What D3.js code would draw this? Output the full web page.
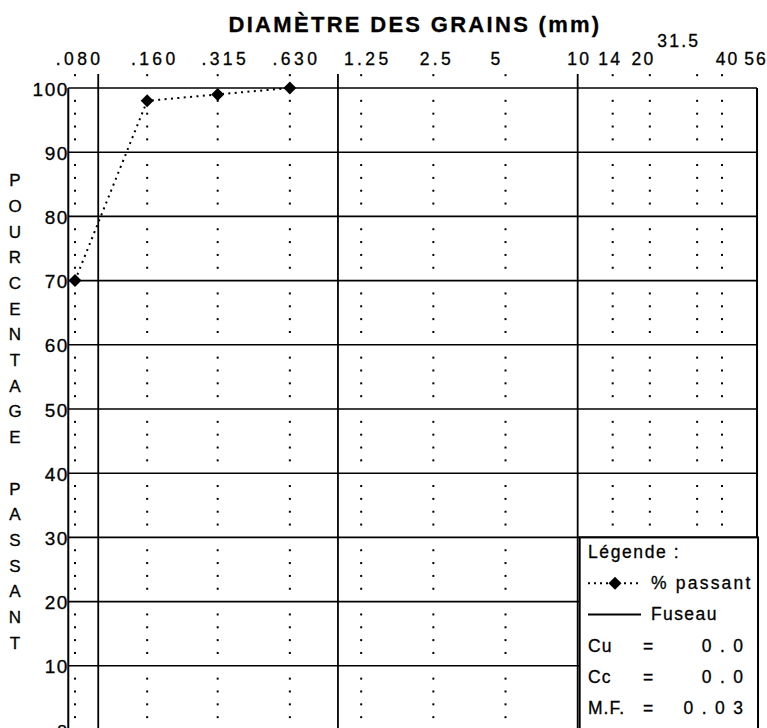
<!DOCTYPE html>
<html>
<head>
<meta charset="utf-8">
<script src="https://cdn.jsdelivr.net/npm/d3@7"></script>
<style>
  body { margin: 0; background: #fff; }
  svg { display: block; }
  text { font-family: "Liberation Sans", Arial, Helvetica, sans-serif; fill: #000; stroke: #000; stroke-width: 0.3px; }
</style>
</head>
<body>
<div id="chart"></div>
<script>
// sieve openings (mm) and their printed labels
const sieveSizes  = [0.08, 0.16, 0.315, 0.63, 1.25, 2.5, 5, 10, 14, 20, 31.5, 40, 56];
const sieveLabels = [".080", ".160", ".315", ".630", "1.25", "2.5", "5", "10", "14", "20", "31.5", "40", "56"];
const decadeSizes = [0.1, 1, 10];
const percentTicks = [0, 10, 20, 30, 40, 50, 60, 70, 80, 90, 100];

// measured sample: % passing
const sampleSizes   = [0.08, 0.16, 0.315, 0.63];
const samplePassing = [70, 98, 99, 100];

const titleText = "DIAMÈTRE DES GRAINS (mm)";
const yTitle = "POURCENTAGE PASSANT";
const legendTitle = "Légende :";
const legendSeries = ["% passant", "Fuseau"];
const statNames  = ["Cu", "Cc", "M.F."];
const statValues = ["0.0", "0.0", "0.03"];

const width = 767, height = 728;

const svg = d3.select("#chart")
    .append("svg")
    .attr("width", width)
    .attr("height", height);

const x = d3.scaleLog().domain([0.08, 40]).range([75, 722]);
const y = d3.scaleLinear().domain([0, 100]).range([730, 88]);

const plotLeft = x(0.075), plotRight = x(56);
const plotTop = y(100), plotBottom = y(0);

// dotted sieve lines (one dot every 2 %)
const dotSieves = sieveSizes.filter(s => s !== 10 && s !== 56);
const dotSteps = d3.range(2, 104, 2).filter(v => v % 10 !== 0);
const dots = svg.append("g");
dotSieves.forEach(s => {
    dots.selectAll(null)
        .data(dotSteps)
        .enter()
        .append("rect")
        .attr("x", x(s) - 1)
        .attr("y", d => y(d) - 1)
        .attr("width", 2)
        .attr("height", 2)
        .attr("fill", "#000");
});

// horizontal grid
svg.append("g")
    .selectAll("line")
    .data(percentTicks)
    .enter()
    .append("line")
    .attr("x1", plotLeft)
    .attr("x2", plotRight)
    .attr("y1", d => y(d))
    .attr("y2", d => y(d))
    .attr("stroke", "#000")
    .attr("stroke-width", 1.6);

// solid decade lines
svg.append("g")
    .selectAll("line")
    .data(decadeSizes)
    .enter()
    .append("line")
    .attr("x1", d => x(d))
    .attr("x2", d => x(d))
    .attr("y1", y(102.2))
    .attr("y2", plotBottom)
    .attr("stroke", "#000")
    .attr("stroke-width", 1.8);

// frame sides
svg.append("line")
    .attr("x1", plotLeft).attr("x2", plotLeft)
    .attr("y1", plotTop).attr("y2", plotBottom)
    .attr("stroke", "#000").attr("stroke-width", 2);
svg.append("line")
    .attr("x1", plotRight).attr("x2", plotRight)
    .attr("y1", plotTop).attr("y2", plotBottom)
    .attr("stroke", "#000").attr("stroke-width", 2);

// legend box (covers grid in the lower right corner)
const lgX = x(10) + 2, lgY = y(30);
svg.append("rect")
    .attr("x", lgX)
    .attr("y", lgY)
    .attr("width", plotRight - lgX + 1)
    .attr("height", plotBottom - lgY + 10)
    .attr("fill", "#fff")
    .attr("stroke", "#000")
    .attr("stroke-width", 2);

// sample curve
const line = d3.line()
    .x((d, i) => x(sampleSizes[i]))
    .y(d => y(d));

svg.append("path")
    .datum(samplePassing)
    .attr("d", line)
    .attr("fill", "none")
    .attr("stroke", "#000")
    .attr("stroke-width", 2)
    .attr("stroke-dasharray", "2 4.4");

const diamond = d3.symbol().type(d3.symbolSquare).size(84);
svg.append("g")
    .selectAll("path")
    .data(samplePassing)
    .enter()
    .append("path")
    .attr("d", diamond)
    .attr("transform", (d, i) => `translate(${x(sampleSizes[i])},${y(d)}) rotate(45)`)
    .attr("fill", "#000");

// title
svg.append("text")
    .attr("x", 415)
    .attr("y", 32)
    .attr("text-anchor", "middle")
    .style("font-size", "22px")
    .style("font-weight", "bold")
    .style("letter-spacing", "2.3px")
    .text(titleText);

// top sieve labels (hand nudged like the printed sheet)
const labelNudge = { ".080": 3, ".160": 6, ".315": 6, ".630": 5, "1.25": 5, "2.5": 2, "5": -10, "10": 0, "14": -4, "20": -8, "31.5": -20, "40": 4, "56": -2.5 };
svg.append("g")
    .selectAll("text")
    .data(sieveSizes)
    .enter()
    .append("text")
    .attr("x", (d, i) => x(d) + labelNudge[sieveLabels[i]] + 1.6)
    .attr("y", (d, i) => sieveLabels[i] === "31.5" ? 47 : 65)
    .attr("text-anchor", "middle")
    .style("font-size", "17.5px")
    .style("letter-spacing", (d, i) => i >= 7 ? "2.2px" : "3.4px")
    .text((d, i) => sieveLabels[i]);

// left percent labels
svg.append("g")
    .selectAll("text")
    .data(percentTicks)
    .enter()
    .append("text")
    .attr("x", plotLeft + 0.5)
    .attr("y", d => y(d) + 7.5)
    .attr("text-anchor", "end")
    .style("font-size", "19px")
    .style("letter-spacing", "1.5px")
    .text(d => d);

// stacked vertical title
svg.append("g")
    .selectAll("text")
    .data(yTitle.split(""))
    .enter()
    .append("text")
    .attr("x", 15)
    .attr("y", (d, i) => 180 + i * 25.7)
    .attr("dy", "0.36em")
    .attr("text-anchor", "middle")
    .style("font-size", "17px")
    .text(d => d);

// legend content
const rowY = i => 558 + i * 31.2;
const lg = svg.append("g").style("font-size", "17.5px");

lg.append("text")
    .attr("x", 588).attr("y", rowY(0))
    .style("letter-spacing", "1.6px")
    .text(legendTitle);

lg.append("line")
    .attr("x1", 588).attr("x2", 642)
    .attr("y1", rowY(1) - 6).attr("y2", rowY(1) - 6)
    .attr("stroke", "#000").attr("stroke-width", 2)
    .attr("stroke-dasharray", "2 4");
lg.append("path")
    .attr("d", diamond)
    .attr("transform", `translate(615,${rowY(1) - 6}) rotate(45)`)
    .attr("fill", "#000");
lg.append("line")
    .attr("x1", 588).attr("x2", 641)
    .attr("y1", rowY(2) - 6).attr("y2", rowY(2) - 6)
    .attr("stroke", "#000").attr("stroke-width", 2);

lg.selectAll(".series")
    .data(legendSeries)
    .enter()
    .append("text")
    .attr("x", 651)
    .attr("y", (d, i) => rowY(i + 1))
    .style("letter-spacing", (d, i) => i === 0 ? "2.2px" : "1.4px")
    .text(d => d);

statNames.forEach((name, i) => {
    lg.append("text")
        .attr("x", 588).attr("y", rowY(i + 3))
        .style("letter-spacing", "1px")
        .text(name);
    lg.append("text")
        .attr("x", 648).attr("y", rowY(i + 3))
        .attr("text-anchor", "middle")
        .text("=");
    lg.append("text")
        .attr("x", 743 + 8.5).attr("y", rowY(i + 3))
        .attr("text-anchor", "end")
        .style("letter-spacing", "8.5px")
        .text(statValues[i]);
});
</script>
</body>
</html>
